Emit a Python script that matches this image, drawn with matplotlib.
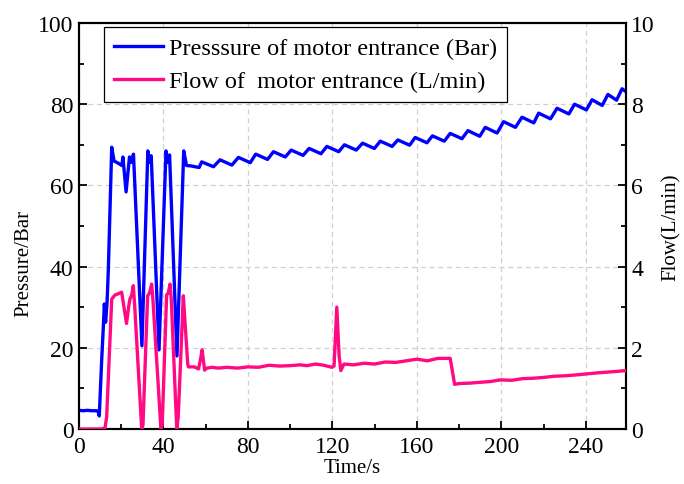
import matplotlib
matplotlib.use("Agg")
import matplotlib.pyplot as plt
from matplotlib.ticker import MultipleLocator

# ---- data ----
time_p = [0, 2, 4, 6, 8, 9, 9.6, 10.7, 11.6, 12.0, 12.6, 13.3, 13.9, 15.5, 16.6, 18.5,
          20.3, 20.8, 22.3, 23.9, 24.7, 25.8, 29.8, 32.6, 33.4, 34.2, 37.9, 41.2, 42.1,
          42.9, 46.4, 49.6, 50.9, 53.0, 55.0, 56.9,
          58.1, 63.7, 66.8, 72.4, 75.5, 81.1, 83.7, 89.3, 92.1, 97.7, 100.5, 106.1,
          109.0, 114.6, 117.4, 123.0, 125.7, 131.3, 134.3, 139.9, 142.7, 148.3,
          151.0, 156.6, 159.2, 164.8, 167.4, 173.0, 175.8, 181.4, 184.2, 189.8,
          192.4, 198.0, 201.1, 206.7, 209.8, 215.4, 217.7, 223.3, 226.4, 232.0,
          234.7, 240.3, 243.0, 247.8, 250.5, 254.6, 257.2, 259.0]
pressure = [4.6, 4.5, 4.6, 4.5, 4.5, 4.4, 3.2, 16.5, 26.0, 30.8, 26.3, 31.3, 39.4, 69.4, 66.0, 65.5,
            64.9, 67.0, 58.4, 67.0, 65.7, 67.7, 20.5, 68.5, 65.7, 67.3, 19.5, 68.5, 65.7,
            67.5, 18.0, 68.5, 64.9, 64.8, 64.6, 64.4,
            65.8, 64.6, 66.3, 65.0, 66.9, 65.6, 67.7, 66.4, 68.3, 67.0, 68.7, 67.4,
            69.1, 67.8, 69.6, 68.3, 70.0, 68.7, 70.4, 69.1, 70.9, 69.6,
            71.2, 69.9, 71.8, 70.5, 72.2, 70.9, 72.8, 71.5, 73.5, 72.1,
            74.3, 72.9, 75.7, 74.3, 76.8, 75.4, 77.8, 76.4, 79.0, 77.6,
            80.0, 78.6, 81.1, 79.7, 82.4, 81.0, 83.8, 83.1]

time_f = [0, 5, 10, 12.3, 13.1, 15.5, 17, 18.6, 20.2, 21.3, 22.5, 23.5, 24.1, 25.0, 25.7,
          26.3, 29.7, 30.3, 32.5, 33.4, 34.4, 35.0, 38.8, 39.4, 41.5, 42.3, 43.1, 43.7,
          46.3, 47.0, 49.4, 50.0, 51.5, 51.8, 54.6, 56.6, 57.5, 58.3, 58.9, 59.5, 60.5,
          63, 66, 70, 75, 80, 85, 90, 95, 100, 104.7, 108, 112, 116, 119.8, 120.8,
          122.1, 123.2, 124.0, 125.5, 130, 135, 140, 145, 150, 155, 160, 165, 170,
          175.8, 177.9, 180, 185, 190, 195, 199.5, 205, 210, 215, 220, 225, 230, 235,
          239, 245, 250, 255, 259]
flow = [0, 0, 0, 0.02, 0.3, 3.2, 3.3, 3.33, 3.37, 3.0, 2.6, 3.0, 3.2, 3.3, 3.53,
        3.1, 0.0, 0.1, 3.28, 3.35, 3.57, 3.2, 0.0, 0.1, 3.3, 3.35, 3.57, 3.2,
        0.0, 0.3, 3.28, 2.8, 1.6, 1.53, 1.53, 1.48, 1.7, 1.95, 1.7, 1.45, 1.5,
        1.52, 1.5, 1.52, 1.5, 1.53, 1.52, 1.57, 1.55, 1.56, 1.58, 1.56, 1.6, 1.57, 1.52, 1.55,
        3.0, 1.8, 1.44, 1.6, 1.58, 1.62, 1.6, 1.65, 1.64, 1.68, 1.72, 1.68, 1.74,
        1.74, 1.1, 1.12, 1.13, 1.15, 1.17, 1.21, 1.2, 1.24, 1.25, 1.27, 1.3, 1.31, 1.33,
        1.35, 1.38, 1.4, 1.42, 1.44]

x_ticks = [0, 40, 80, 120, 160, 200, 240]
label_p = "Presssure of motor entrance (Bar)"
label_f = "Flow of  motor entrance (L/min)"

plt.rcParams['font.family'] = ['Liberation Serif', 'DejaVu Serif']

fig = plt.figure(figsize=(6.84, 4.85), dpi=100)
ax = fig.add_axes([0.1155, 0.1134, 0.7995, 0.8371])
ax2 = ax.twinx()

blue = '#0000FF'
pink = '#FF0A82'
l1, = ax.plot(time_p, pressure, color=blue, lw=2.4, label=label_p, zorder=3)
l2, = ax2.plot(time_f, flow, color=pink, lw=2.4, label=label_f, zorder=3)

ax.set_xlim(0, 259)
ax.set_ylim(0, 100)
ax2.set_ylim(0, 10)
ax.set_xticks(x_ticks)
ax.xaxis.set_minor_locator(MultipleLocator(20))
ax.yaxis.set_major_locator(MultipleLocator(20))
ax.yaxis.set_minor_locator(MultipleLocator(10))
ax2.yaxis.set_major_locator(MultipleLocator(2))
ax2.yaxis.set_minor_locator(MultipleLocator(1))

ax.grid(True, which='major', color='#d0d0d0', linestyle=(0, (4, 3)), lw=0.9)
ax.set_axisbelow(True)

for a in (ax, ax2):
    a.tick_params(which='major', direction='in', length=6, width=1.3, labelsize=17)
    a.tick_params(which='minor', direction='in', length=3.5, width=1.3)
    for s in a.spines.values():
        s.set_linewidth(1.5)
ax.tick_params(axis='x', pad=5)
ax.tick_params(axis='y', pad=4)
ax2.tick_params(axis='y', pad=4)

ax.set_xlabel("Time/s", fontsize=15, labelpad=1)
ax.set_ylabel("Pressure/Bar", fontsize=15, labelpad=3)
ax.yaxis.set_label_coords(-0.083, 0.41)
ax2.set_ylabel("Flow(L/min)", fontsize=15, labelpad=5)

leg = ax2.legend(handles=[l1, l2], loc='upper left', bbox_to_anchor=(0.046, 0.99),
                 fontsize=17.5, frameon=True, fancybox=False, edgecolor='black',
                 framealpha=1, handlelength=2.0, handletextpad=0.25, borderpad=0.42,
                 labelspacing=0.45, borderaxespad=0)
leg.get_frame().set_linewidth(0.9)

fig.savefig("out.png", dpi=100)
